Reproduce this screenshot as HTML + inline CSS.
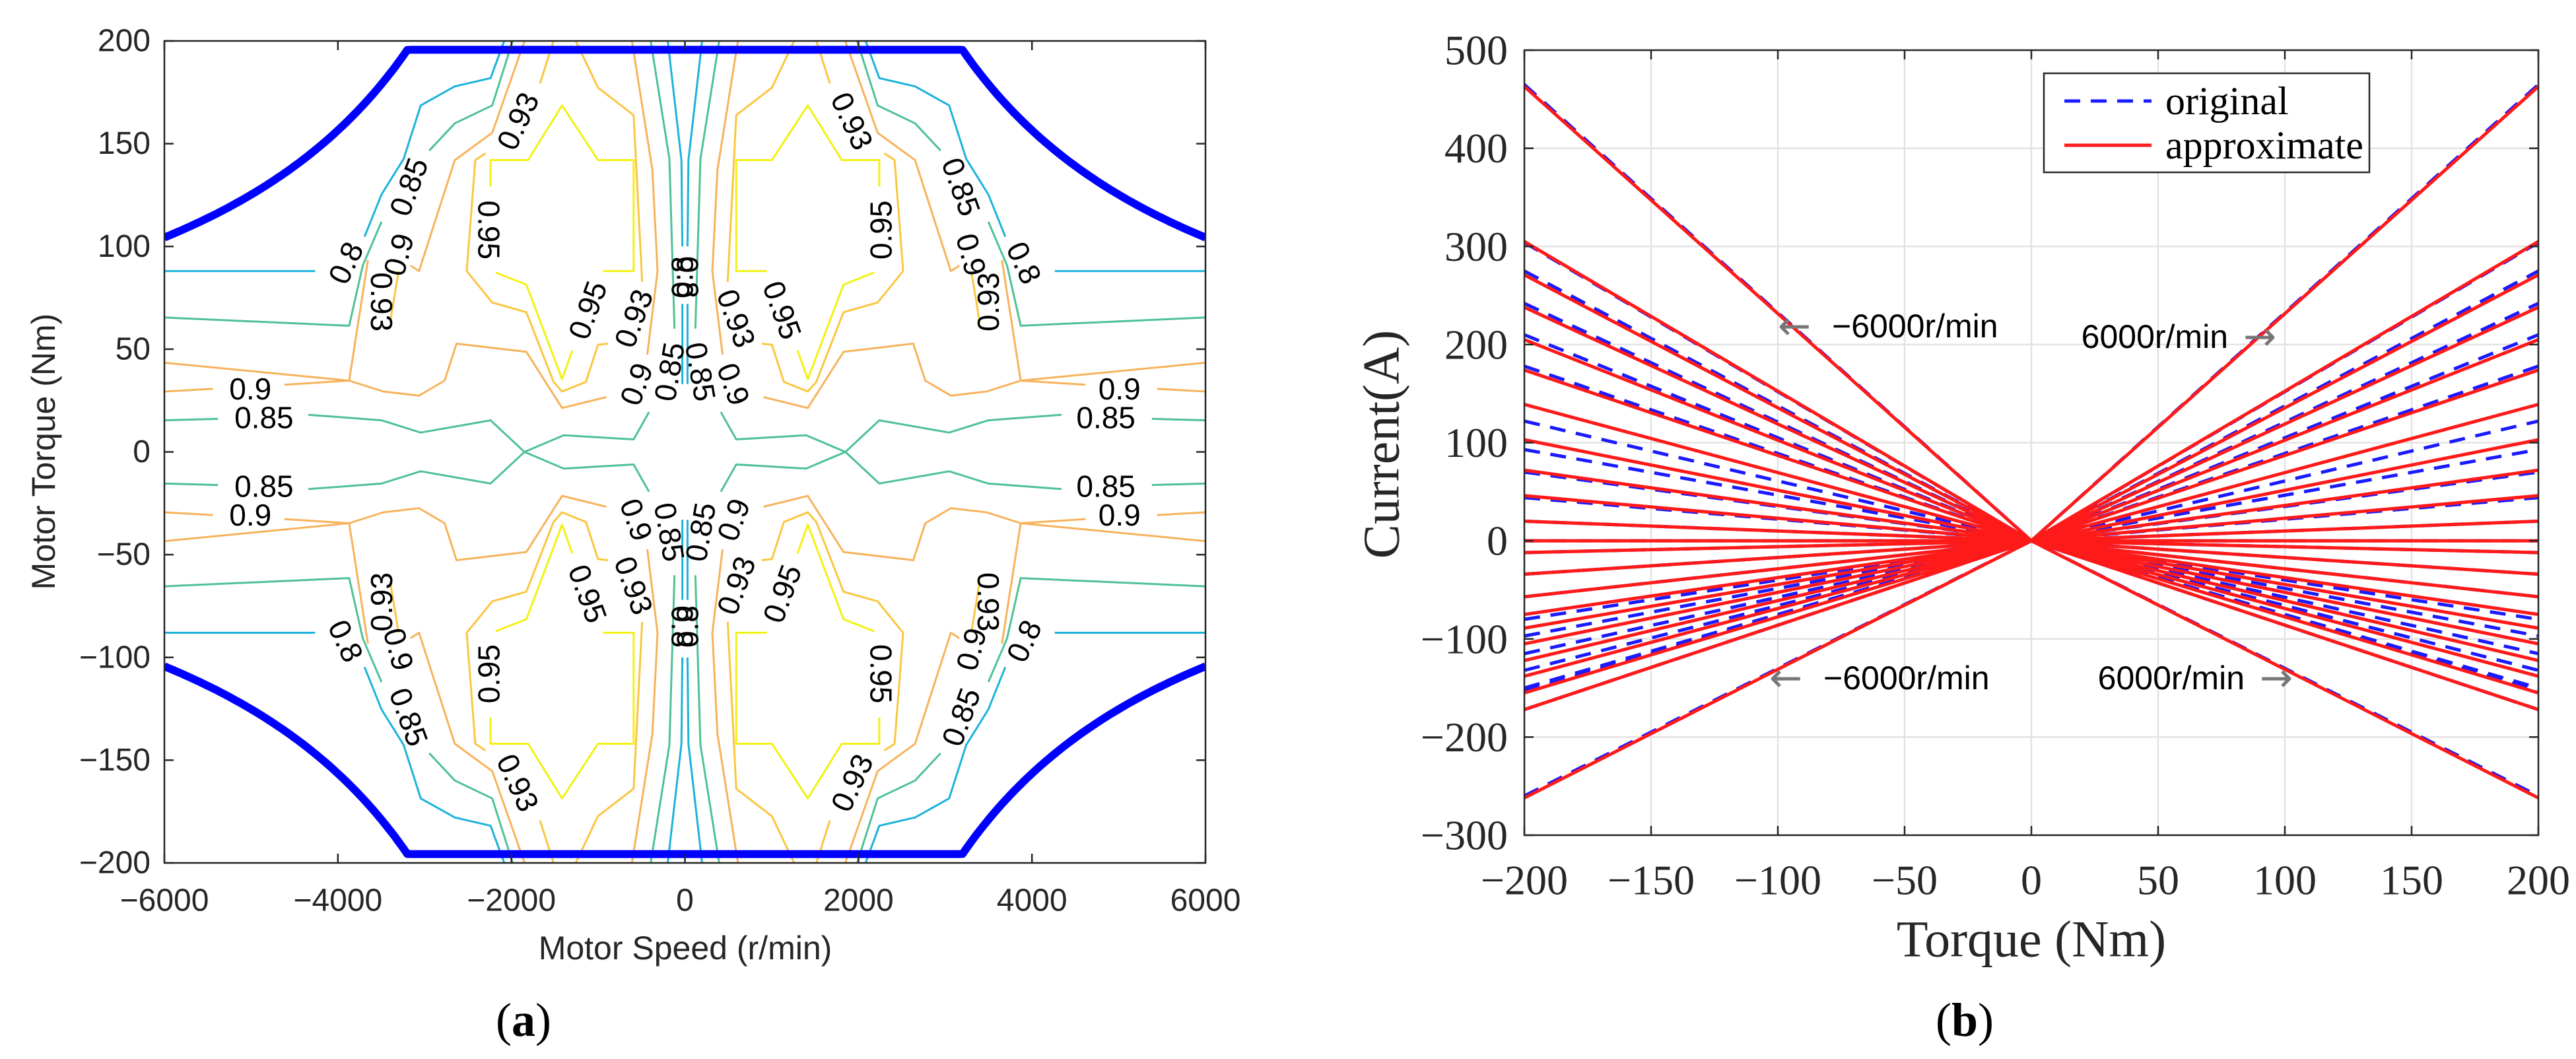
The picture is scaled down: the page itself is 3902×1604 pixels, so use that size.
<!DOCTYPE html>
<html><head><meta charset="utf-8">
<style>
html,body{margin:0;padding:0;background:#fff;}
svg{display:block;}
</style></head>
<body>
<svg id="fig" xmlns="http://www.w3.org/2000/svg" width="3902" height="1604" viewBox="0 0 3902 1604">
<defs>
<clipPath id="clipA"><rect x="249" y="62" width="1577" height="1245"/></clipPath>
<clipPath id="clipB"><rect x="2309" y="76" width="1536" height="1189"/></clipPath>
</defs>
<g id="panelA"></g>
<g id="panelB"></g>
</svg>
<script>
// ---------- Panel (a) data: first quadrant polylines [speed, torque], mirrored ----------
const contourLevels = ["0.8","0.85","0.9","0.93","0.95"];
const levelColors = {"0.8":"#1cb2dc","0.85":"#4fc196","0.9":"#f7b35c","0.93":"#fbc640","0.95":"#f3f115"};
const cyanOuter1 = [[2083,200],[2240,181.9],[2653,177.9],[3045,168.6],[3242,142.6],[3497,125.3],[3693,104.7]];
const cyanOuter2 = [[4263,88],[6000,88]];
const cyanCenter1 = [[198,200],[40,142],[30,100]];
const cyanCenter2 = [[30,72],[30,33]];
const tealOuter1 = [[1985,200],[2221,168.6],[2653,159.9],[2947,146.6]];
const tealOuter2 = [[3497,112],[3713,90.7],[3870,61.4],[6000,65.4]];
const tealCenter1 = [[395,200],[179,142.6],[120,60]];
const tealCenter2 = [[414,19.4],[591,6.1],[1396,8.1],[1850,0]];
const tealLow1 = [[1850,0],[2240,15.4],[3045,9.4],[3497,15.4],[4341,18.1]];
const tealLow2 = [[5382,16.1],[6000,15.4]];
const orange90a = [[1848,200],[2221,155.3],[2653,142],[3065,88],[3163,90.7]];
const orange90b = [[3654,93.3],[3870,34.7],[6000,43.4]];
const orange90c = [[3870,34.7],[4616,32.7]];
const orange90d = [[5441,30.7],[6000,29.4]];
const orange90e = [[3870,34.7],[3477,29.4],[3065,27.4],[2770,34.7],[2633,52.7],[1828,48.7],[1416,21.4],[905,26.7]];
const orange90f = [[611,200],[375,137.3],[316,88],[434,47.4]];
const yo93a = [[1514,200],[1671,179.3]];
const yo93b = [[2299,145.3],[2417,142],[2515,88],[2221,72.7],[1828,68],[1514,34.1],[1416,29.4],[1141,34.1],[1003,52.1],[886,52.7]];
const yo93c = [[1259,200],[1003,177.3],[591,163.9],[493,82.7]];
const yo93d = [[3300,88],[3399,62.7]];
const yel95a = [[944,88],[591,88],[591,142],[1003,142],[1416,168.6],[1808,142],[2240,142],[2240,129.3]];
const yel95b = [[2181,87.3],[1828,81.4],[1416,35.4],[1298,49.4]];
const contourLines = [
 ["0.8",cyanOuter1],["0.8",cyanOuter2],["0.8",cyanCenter1],["0.8",cyanCenter2],
 ["0.85",tealOuter1],["0.85",tealOuter2],["0.85",tealCenter1],["0.85",tealCenter2],["0.85",tealLow1],["0.85",tealLow2],
 ["0.9",orange90a],["0.9",orange90b],["0.9",orange90c],["0.9",orange90d],["0.9",orange90e],["0.9",orange90f],
 ["0.93",yo93a],["0.93",yo93b],["0.93",yo93c],["0.93",yo93d],
 ["0.95",yel95a],["0.95",yel95b]
];
const labelText = ["0.93","0.85","0.95","0.9","0.93","0.8","0.95","0.93","0.85","0.9","0.9","0.85","0.8"];
const labelSpeed = [1926,3183,2260,3300,3497,3909,1121,591,179,560,5009,4852,30];
const labelTorque = [161,129,108,96,73,92,69,65,39,33,30.7,16.7,85];
const labelRot = [65,70,-90,75,-90,65,70,70,80,70,0,0,90];
const boundaryPower = 626000; // torque*speed limit
const boundaryMaxTorque = 195.7;
const xTicksA = [-6000,-4000,-2000,0,2000,4000,6000];
const yTicksA = [-200,-150,-100,-50,0,50,100,150,200];

// ---------- Panel (b) data ----------
const redEnd = [463,305,271,238,205,174,139,103,72,46,20,0,-12,-34,-57,-75,-89,-105,-122,-138,-155,-172,-262];
const blueEnd = [465,304,275,242,210,178,122,93,70,44,20,0,-12,-34,-57,-80,-97,-115,-132,-150,-153,-172,-260];
const xTicksB = [-200,-150,-100,-50,0,50,100,150,200];
const yTicksB = [-300,-200,-100,0,100,200,300,400,500];

const NS="http://www.w3.org/2000/svg";
function mk(tag,attrs,parent){const e=document.createElementNS(NS,tag);for(const k in attrs)e.setAttribute(k,attrs[k]);parent.appendChild(e);return e;}

// ===== Panel A =====
const A=document.getElementById('panelA');
const ax0=249,ax1=1826,ay0=62,ay1=1307;
const sx=s=>ax0+(s+6000)/12000*(ax1-ax0);
const sy=t=>ay0+(200-t)/400*(ay1-ay0);
const gA=mk('g',{'clip-path':'url(#clipA)'},A);


const signs=[[1,1],[-1,1],[1,-1],[-1,-1]];
contourLines.forEach(([lvl,pts])=>{
  signs.forEach(([mx,my])=>{
    const d=pts.map(p=>sx(mx*p[0]).toFixed(1)+','+sy(my*p[1]).toFixed(1)).join(' ');
    const pl=mk('polyline',{points:d,fill:'none',stroke:levelColors[lvl],'stroke-width':3,'stroke-linejoin':'round'},gA);
    
    
  });
});
[1,-1].forEach(my=>{
  const pts=[];
  for(let s=-6000;s<=6000;s+=50){
    const t=Math.min(boundaryMaxTorque,boundaryPower/Math.max(Math.abs(s),1));
    pts.push(sx(s).toFixed(1)+','+sy(my*t).toFixed(1));
  }
  const b=mk('polyline',{points:pts.join(' '),fill:'none',stroke:'#0000ff','stroke-width':12,'stroke-linejoin':'round'},gA);
  
  
});
labelText.forEach((txt,i)=>{
  signs.forEach(([mx,my])=>{
    const x=sx(mx*labelSpeed[i]),y=sy(my*labelTorque[i]);
    const r=labelRot[i]*mx*my;
    const t=mk('text',{x:x,y:y,'font-family':'Liberation Sans, sans-serif','font-size':46,'text-anchor':'middle','dominant-baseline':'central',fill:'#000',transform:`rotate(${r} ${x} ${y})`},gA);
    t.textContent=txt;
    
    
  });
});
const fA=mk('rect',{x:ax0,y:ay0,width:ax1-ax0,height:ay1-ay0,fill:'none',stroke:'#262626','stroke-width':2.5},A);


xTicksA.forEach(v=>{
  const x=sx(v);
  mk('line',{x1:x,y1:ay1,x2:x,y2:ay1-14,stroke:'#262626','stroke-width':2.5},A);
  mk('line',{x1:x,y1:ay0,x2:x,y2:ay0+14,stroke:'#262626','stroke-width':2.5},A);
  const t=mk('text',{x:x,y:1364,'font-family':'Liberation Sans, sans-serif','font-size':48,'text-anchor':'middle','dominant-baseline':'central',fill:'#262626'},A);
  t.textContent=(v<0?'\u2212':'')+Math.abs(v);
  
  
});
yTicksA.forEach(v=>{
  const y=sy(v);
  mk('line',{x1:ax0,y1:y,x2:ax0+14,y2:y,stroke:'#262626','stroke-width':2.5},A);
  mk('line',{x1:ax1,y1:y,x2:ax1-14,y2:y,stroke:'#262626','stroke-width':2.5},A);
  const t=mk('text',{x:228,y:y,'font-family':'Liberation Sans, sans-serif','font-size':48,'text-anchor':'end','dominant-baseline':'central',fill:'#262626'},A);
  t.textContent=(v<0?'\u2212':'')+Math.abs(v);
  
  
});
{
const t1=mk('text',{x:1038,y:1436,'font-family':'Liberation Sans, sans-serif','font-size':50,'text-anchor':'middle','dominant-baseline':'central',fill:'#262626'},A);
t1.textContent='Motor Speed (r/min)';


const t2=mk('text',{x:0,y:0,'font-family':'Liberation Sans, sans-serif','font-size':50,'text-anchor':'middle','dominant-baseline':'central',fill:'#262626',transform:'translate(66 684) rotate(-90)'},A);
t2.textContent='Motor Torque (Nm)';


const t3=mk('text',{x:793,y:1545,'font-family':'Liberation Serif, serif','font-size':72,'text-anchor':'middle','dominant-baseline':'central',fill:'#000'},A);
t3.innerHTML='(<tspan font-weight="bold">a</tspan>)';


}

// ===== Panel B =====
const B=document.getElementById('panelB');
const bx0=2309,bx1=3845,by0=76,by1=1265;
const rx=T=>bx0+(T+200)/400*(bx1-bx0);
const ry=I=>by0+(500-I)/800*(by1-by0);
xTicksB.forEach(v=>{
  const g=mk('line',{x1:rx(v),y1:by0,x2:rx(v),y2:by1,stroke:'#e3e3e3','stroke-width':2.5},B);
  
  
});
yTicksB.forEach(v=>{
  const g=mk('line',{x1:bx0,y1:ry(v),x2:bx1,y2:ry(v),stroke:'#e3e3e3','stroke-width':2.5},B);
  
  
});
const gB=mk('g',{'clip-path':'url(#clipB)'},B);


blueEnd.forEach(v=>{
  const d=`${rx(-200)},${ry(v)} ${rx(0)},${ry(0)} ${rx(200)},${ry(v)}`;
  const p=mk('polyline',{points:d,fill:'none',stroke:'#1a1aff','stroke-width':5,'stroke-dasharray':'24 16'},gB);
  
  
});
redEnd.forEach(v=>{
  const d=`${rx(-200)},${ry(v)} ${rx(0)},${ry(0)} ${rx(200)},${ry(v)}`;
  const p=mk('polyline',{points:d,fill:'none',stroke:'#ff1a1a','stroke-width':5},gB);
  
  
});
const fB=mk('rect',{x:bx0,y:by0,width:bx1-bx0,height:by1-by0,fill:'none',stroke:'#262626','stroke-width':2.5},B);


xTicksB.forEach(v=>{
  const x=rx(v);
  mk('line',{x1:x,y1:by1,x2:x,y2:by1-14,stroke:'#262626','stroke-width':2.5},B);
  mk('line',{x1:x,y1:by0,x2:x,y2:by0+14,stroke:'#262626','stroke-width':2.5},B);
  const t=mk('text',{x:x,y:1333,'font-family':'Liberation Serif, serif','font-size':64,'text-anchor':'middle','dominant-baseline':'central',fill:'#262626'},B);
  t.textContent=(v<0?'\u2212':'')+Math.abs(v);
  
  
});
yTicksB.forEach(v=>{
  const y=ry(v);
  mk('line',{x1:bx0,y1:y,x2:bx0+14,y2:y,stroke:'#262626','stroke-width':2.5},B);
  mk('line',{x1:bx1,y1:y,x2:bx1-14,y2:y,stroke:'#262626','stroke-width':2.5},B);
  const t=mk('text',{x:2284,y:y,'font-family':'Liberation Serif, serif','font-size':64,'text-anchor':'end','dominant-baseline':'central',fill:'#262626'},B);
  t.textContent=(v<0?'\u2212':'')+Math.abs(v);
  
  
});
{
const t1=mk('text',{x:3077,y:1422,'font-family':'Liberation Serif, serif','font-size':78,'text-anchor':'middle','dominant-baseline':'central',fill:'#262626'},B);
t1.textContent='Torque (Nm)';


const t2=mk('text',{x:0,y:0,'font-family':'Liberation Serif, serif','font-size':78,'text-anchor':'middle','dominant-baseline':'central',fill:'#262626',transform:'translate(2092 673) rotate(-90)'},B);
t2.textContent='Current(A)';


const t3=mk('text',{x:2976,y:1545,'font-family':'Liberation Serif, serif','font-size':72,'text-anchor':'middle','dominant-baseline':'central',fill:'#000'},B);
t3.innerHTML='(<tspan font-weight="bold">b</tspan>)';


const lg=mk('g',{},B);


mk('rect',{x:3096,y:111,width:493,height:150,fill:'#fff',stroke:'#262626','stroke-width':2.5},lg);
mk('line',{x1:3127,y1:153,x2:3259,y2:153,stroke:'#1a1aff','stroke-width':5,'stroke-dasharray':'24 16'},lg);
mk('line',{x1:3127,y1:220,x2:3259,y2:220,stroke:'#ff1a1a','stroke-width':5},lg);
const l1=mk('text',{x:3280,y:153,'font-family':'Liberation Serif, serif','font-size':60,'dominant-baseline':'central',fill:'#000'},lg);
l1.textContent='original';


const l2=mk('text',{x:3280,y:220,'font-family':'Liberation Serif, serif','font-size':60,'dominant-baseline':'central',fill:'#000'},lg);
l2.textContent='approximate';


const ann=[["\u2190",2718,494,"\u22126000r/min",2775,'start'],["\u2192",3423,510,"6000r/min",3375,'end'],["\u2190",2705,1027,"\u22126000r/min",2762,'start'],["\u2192",3448,1027,"6000r/min",3400,'end']];
ann.forEach(([ar,x,y,txt,tx,anc])=>{
  const a=mk('text',{x:x,y:y,'font-family':'DejaVu Sans, sans-serif','font-size':60,'text-anchor':'middle','dominant-baseline':'central',fill:'#777'},B);
  a.textContent=ar;
  
  
  const t=mk('text',{x:tx,y:y,'font-family':'Liberation Sans, sans-serif','font-size':50,'text-anchor':anc,'dominant-baseline':'central',fill:'#000'},B);
  t.textContent=txt;
  
  
});
}
</script>
</body></html>
